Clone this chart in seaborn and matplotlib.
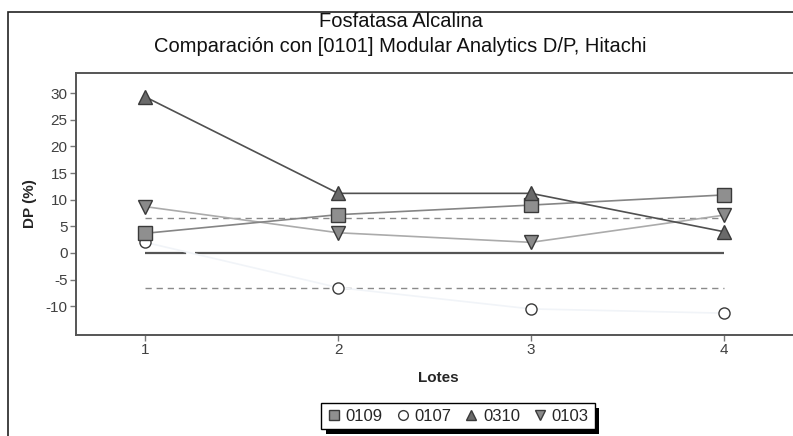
import numpy as np
import pandas as pd
import matplotlib
matplotlib.use("Agg")
import matplotlib.pyplot as plt
import matplotlib.patheffects as pe
from matplotlib.lines import Line2D
from matplotlib.patches import Rectangle
import seaborn as sns

# Values
lotes = [1, 2, 3, 4]
dp_0109 = [3.7, 7.2, 9.0, 10.9]
dp_0107 = [2.0, -6.5, -10.5, -11.3]
dp_0310 = [29.3, 11.2, 11.2, 4.0]
dp_0103 = [8.7, 3.8, 2.0, 7.1]
series_names = ["0109", "0107", "0310", "0103"]
ref_level = 0.0
limit_levels = [6.5, -6.5]
y_ticks = [-10, -5, 0, 5, 10, 15, 20, 25, 30]

title = "Fosfatasa Alcalina\nComparación con [0101] Modular Analytics D/P, Hitachi"

df = pd.DataFrame({
    "Lote": lotes * 4,
    "DP": dp_0109 + dp_0107 + dp_0310 + dp_0103,
    "Serie": np.repeat(series_names, len(lotes)),
})

# per series: line colour, marker, face, size
styles = {
    "0109": dict(line="#858585", marker="s", face="#8f8f8f", size=10),
    "0107": dict(line="#f1f4f8", marker="o", face="white", size=8),
    "0310": dict(line="#505050", marker="^", face="#6a6a6a", size=10),
    "0103": dict(line="#ababab", marker="v", face="#8a8a8a", size=10),
}
edge = "#3a3a3a"

sns.set_style("white")
plt.rcParams["font.family"] = ["Liberation Sans", "DejaVu Sans"]
plt.rcParams["axes.unicode_minus"] = False

fig = plt.figure(figsize=(7.93, 4.36), dpi=100)
ax = fig.add_axes([76 / 793, 1 - 335 / 436, 1 - 76 / 793 + 0.01, (335 - 73) / 436])

# reference line at 0 (with its small break) and dashed limits
ax.plot([lotes[0], lotes[-1]], [ref_level, ref_level], color="#555555", lw=1.6,
        dashes=(18.5, 4, 1000, 1), zorder=1)
for lim in limit_levels:
    ax.plot([lotes[0], lotes[-1]], [lim, lim], color="#8a8a8a", lw=1.0,
            dashes=(4.5, 3.5), zorder=1)

for name in ["0107", "0103", "0109", "0310"]:
    st = styles[name]
    sub = df[df["Serie"] == name]
    sns.lineplot(data=sub, x="Lote", y="DP", ax=ax, color=st["line"], lw=1.2,
                 marker=st["marker"], markersize=st["size"],
                 markerfacecolor=st["face"], markeredgecolor=edge,
                 markeredgewidth=1.0, legend=False, zorder=3)

ax.set_xlim(0.64, 4.4)
ax.set_ylim(-15.4, 33.8)
ax.set_xticks(lotes)
ax.set_yticks(y_ticks)
ax.tick_params(axis="both", direction="out", length=4, width=1, color="#777777",
               labelcolor="#404040", labelsize=11, pad=2, left=True, bottom=True)
for s in ["left", "bottom", "top"]:
    ax.spines[s].set_color("#555555")
    ax.spines[s].set_linewidth(1.4)
ax.spines["right"].set_visible(False)
ax.set_xlabel("Lotes", fontsize=11, fontweight="bold", labelpad=10)
ax.set_ylabel("DP (%)", fontsize=11, fontweight="bold", labelpad=6)

fig.text(0.505, 1 - 34 / 436, title, ha="center", va="center", fontsize=14.5,
         linespacing=1.45, color="#111111")

# legend with markers only and a hard black shadow
handles = [Line2D([], [], ls="none", marker=styles[n]["marker"], markersize=7,
                  markerfacecolor=styles[n]["face"], markeredgecolor=edge)
           for n in series_names]
leg = fig.legend(handles, series_names, loc="center", bbox_to_anchor=(458 / 793, 1 - 416 / 436),
                 ncol=4, frameon=True, fancybox=False, framealpha=1, fontsize=12,
                 handlelength=0.8, handletextpad=0.3, columnspacing=0.8, borderpad=0.35)
frame = leg.get_frame()
frame.set_facecolor("white")
frame.set_edgecolor("black")
frame.set_linewidth(1.0)
frame.set_path_effects([pe.SimplePatchShadow(offset=(3.5, -3.5), shadow_rgbFace="black", alpha=1),
                        pe.Normal()])

# outer frame of the picture
fig.add_artist(Rectangle((8 / 793, -0.1), 1.2, 1.1 - 12 / 436, transform=fig.transFigure,
                         fill=False, edgecolor="#222222", lw=1.2))

fig.savefig("out.png", dpi=100)
